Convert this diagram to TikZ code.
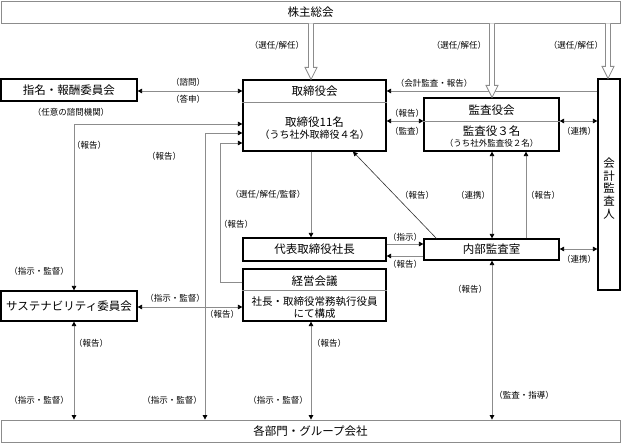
\documentclass[tikz,border=0pt]{standalone}
\usepackage{fontspec}
\setmainfont{Noto Sans CJK JP}
\usetikzlibrary{arrows.meta,calc}
\definecolor{lgray}{RGB}{140,140,140}
\begin{document}
\begin{tikzpicture}[x=1pt,y=-1pt,
  bbox/.style={draw=black, line width=1.2pt, fill=white, inner sep=0pt},
  gbox/.style={draw=lgray, line width=0.8pt, fill=white, inner sep=0pt},
  ttl/.style={inner sep=0pt, font=\fontsize{11.5}{13}\selectfont},
  sub/.style={inner sep=0pt, font=\fontsize{10}{12}\selectfont},
  small/.style={inner sep=0pt, font=\fontsize{8.5}{10}\selectfont},
  lbl/.style={inner sep=0pt, font=\fontsize{8.5}{10}\selectfont},
  div/.style={draw=lgray, line width=0.8pt},
  conn/.style={draw=lgray, line width=0.8pt},
  dline/.style={draw=black!80, line width=0.6pt},
  >={Triangle[length=4.5pt,width=4.5pt,color=black]},
  hollow/.style={draw=lgray, line width=0.8pt, fill=white,
    to path={let \p1=(\tikztostart), \p2=(\tikztotarget) in
      ({\x1-2.5pt},\y1) -- ({\x1-2.5pt},{\y2+12pt}) -- ({\x1-6pt},{\y2+12pt}) --
      (\x1,\y2) -- ({\x1+6pt},{\y2+12pt}) -- ({\x1+2.5pt},{\y2+12pt}) -- ({\x1+2.5pt},\y1)}}
]
\useasboundingbox (0,0) rectangle (621,443);

% ---------- boxes ----------
\node[gbox, minimum width=619pt, minimum height=22pt] (sh) at (310.5,12) {};
\node[ttl] (shT) at (sh.center) {株主総会};

\node[bbox, minimum width=136pt, minimum height=22pt] (nc) at (69,90) {};
\node[ttl] (ncT) at (nc.center) {指名・報酬委員会};
\node[small] (ncS) at (71,112) {（任意の諮問機関）};

\node[bbox, minimum width=143pt, minimum height=71pt] (tb) at (314.5,115.5) {};
\node[ttl] (tbT) at (314.5,91) {取締役会};
\node[ttl] (tbA) at (314.5,122) {取締役11名};
\node[sub] (tbB) at (314.5,135) {（うち社外取締役４名）};

\node[bbox, minimum width=135pt, minimum height=53pt] (ka) at (491.5,124.5) {};
\node[ttl] (kaT) at (491.5,110) {監査役会};
\node[ttl] (kaA) at (491.5,131) {監査役３名};
\node[small] (kaB) at (491.5,143.5) {（うち社外監査役２名）};

\node[bbox, minimum width=22pt, minimum height=211pt] (aud) at (609,184.5) {};
\node[ttl, align=center, font=\fontsize{11.5}{12.75}\selectfont] (audT) at (609,188.5) {会\\計\\監\\査\\人};

\node[bbox, minimum width=143pt, minimum height=23pt] (ceo) at (314.5,249.5) {};
\node[ttl] (ceoT) at (ceo.center) {代表取締役社長};

\node[bbox, minimum width=135pt, minimum height=21pt] (ia) at (491.5,249.5) {};
\node[ttl] (iaT) at (ia.center) {内部監査室};

\node[bbox, minimum width=143pt, minimum height=52pt] (em) at (314.5,295) {};
\node[ttl] (emT) at (314.5,281) {経営会議};
\node[font=\fontsize{10.5}{12}\selectfont, inner sep=0pt] (emA) at (314.5,302) {社長・取締役常務執行役員};
\node[font=\fontsize{10.5}{12}\selectfont, inner sep=0pt] (emB) at (314.5,314) {にて構成};

\node[bbox, minimum width=136pt, minimum height=30pt] (sus) at (69,306) {};
\node[ttl] (susT) at (sus.center) {サステナビリティ委員会};

\node[gbox, minimum width=619pt, minimum height=22pt] (dept) at (310.5,431) {};
\node[ttl] (deptT) at (dept.center) {各部門・グループ会社};

% ---------- helper coordinates ----------
\coordinate (y91) at (0,91);
\coordinate (kdiv) at (0,121);
\coordinate (j1) at (74,124);
\coordinate (j2) at (205,133);
\coordinate (j3) at (220,143);
\coordinate (j3b) at (0,282);
\coordinate (x311) at (311,0);
\coordinate (x492) at (492,0);
\coordinate (x526) at (526,0);
\coordinate (x608) at (608,0);
\coordinate (y244) at (0,244);
\coordinate (y249) at (0,249);
\coordinate (y256) at (0,256);
\coordinate (y307) at (0,307);

% dividers
\draw[div] (tb.west |- 0,102) -- (tb.east |- 0,102);
\draw[div] (ka.west |- kdiv) -- (ka.east |- kdiv);
\draw[div] (em.west |- 0,290) -- (em.east |- 0,290);

% ---------- connectors ----------
\draw[conn,<->] (nc.east |- y91) -- (tb.west |- y91);
\draw[conn,->] (aud.west |- y91) -- (tb.east |- y91);
\draw[conn,<->] (tb.east |- kdiv) -- (ka.west |- kdiv);
\draw[conn,<->] (ka.east |- kdiv) -- (aud.west |- kdiv);
\draw[conn,<->] (tb.west |- j1) -| (sus.north -| j1);
\draw[conn,<->] (tb.west |- j2) -| (dept.north -| j2);
\draw[conn,->] (em.west |- j3b) -| (j3) -- (tb.west |- j3);
\draw[conn,->] (tb.south -| x311) -- (ceo.north -| x311);
\draw[dline,->] ([xshift=13pt]ia.north west) -- ([xshift=38.5pt]tb.south);
\draw[conn,<->] (ka.south -| x492) -- (ia.north -| x492);
\draw[conn,->] (ia.north -| x526) -- (ka.south -| x526);
\draw[conn,->] (ceo.east |- y244) -- (ia.west |- y244);
\draw[conn,->] (ia.west |- y256) -- (ceo.east |- y256);
\draw[conn,<->] (aud.west |- y249) -- (ia.east |- y249);
\draw[conn,<->] (sus.east |- y307) -- (em.west |- y307);
\draw[conn,<->] (sus.south -| j1) -- (dept.north -| j1);
\draw[conn,<->] (em.south -| x311) -- (dept.north -| x311);
\draw[conn,<->] (ia.south -| x492) -- (dept.north -| x492);

% hollow arrows from 株主総会
\draw[hollow] (sh.south -| x311) to (tb.north -| x311);
\draw[hollow] (sh.south -| x492) to (ka.north -| x492);
\draw[hollow] (sh.south -| x608) to (aud.north -| x608);

% ---------- labels ----------
\node[lbl] (l1) at (277,46) {（選任/解任）};
\node[lbl] (l2) at (459,46) {（選任/解任）};
\node[lbl] (l3) at (576,46) {（選任/解任）};
\node[lbl] (l4) at (188,82) {（諮問）};
\node[lbl] (l5) at (188,99) {（答申）};
\node[lbl] (l6) at (434,83) {（会計監査・報告）};
\node[lbl] (l7) at (407,113) {（報告）};
\node[lbl] (l8) at (407,131) {（監査）};
\node[lbl] (l9) at (579,131) {（連携）};
\node[lbl] (l10) at (89,145) {（報告）};
\node[lbl] (l11) at (164,156) {（報告）};
\node[lbl] (l12) at (268,195) {（選任/解任/監督）};
\node[lbl] (l13) at (236,224) {（報告）};
\node[lbl] (l14) at (417,195) {（報告）};
\node[lbl] (l15) at (473,195) {（連携）};
\node[lbl] (l16) at (543,195) {（報告）};
\node[lbl] (l17) at (405,237) {（指示）};
\node[lbl] (l18) at (405,264) {（報告）};
\node[lbl] (l19) at (579,259) {（連携）};
\node[lbl] (l20) at (39,271) {（指示・監督）};
\node[lbl] (l21) at (175,298) {（指示・監督）};
\node[lbl] (l22) at (222,314) {（報告）};
\node[lbl] (l23) at (470,289) {（報告）};
\node[lbl] (l24) at (91,343) {（報告）};
\node[lbl] (l25) at (329,343) {（報告）};
\node[lbl] (l26) at (39,400) {（指示・監督）};
\node[lbl] (l27) at (172,400) {（指示・監督）};
\node[lbl] (l28) at (278,400) {（指示・監督）};
\node[lbl] (l29) at (524,395) {（監査・指導）};
\end{tikzpicture}
\end{document}
